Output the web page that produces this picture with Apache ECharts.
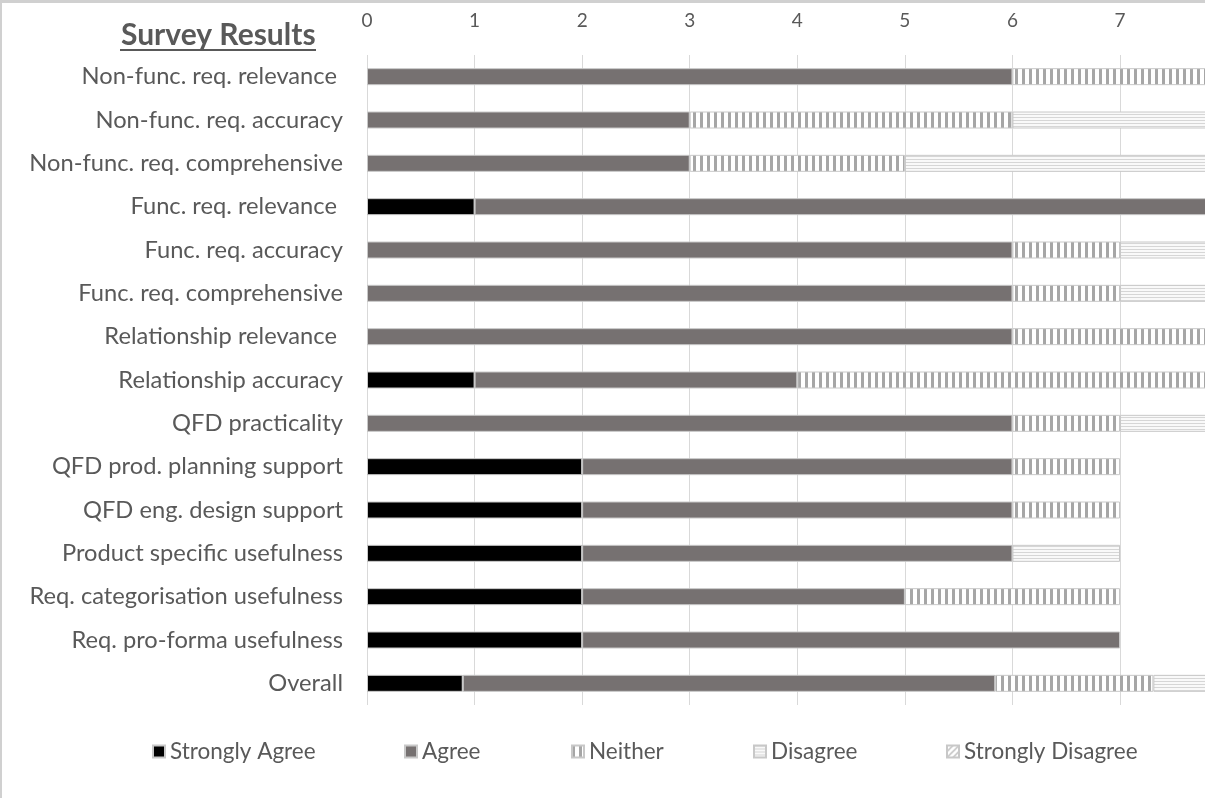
<!DOCTYPE html>
<html>
<head>
<meta charset="utf-8">
<script src="https://cdn.jsdelivr.net/npm/echarts@6/dist/echarts.min.js"></script>
<style>
  html, body { margin: 0; padding: 0; background: #ffffff; overflow: hidden; width: 1205px; height: 798px; }
  #chart { width: 1238px; height: 798px; }
</style>
</head>
<body>
<div id="chart"></div>
<script>
// ---- data ----
const categories = [
  'Non-func. req. relevance ',
  'Non-func. req. accuracy',
  'Non-func. req. comprehensive',
  'Func. req. relevance ',
  'Func. req. accuracy',
  'Func. req. comprehensive',
  'Relationship relevance ',
  'Relationship accuracy',
  'QFD practicality',
  'QFD prod. planning support',
  'QFD eng. design support',
  'Product specific usefulness',
  'Req. categorisation usefulness',
  'Req. pro-forma usefulness',
  'Overall'
];
const seriesNames = ['Strongly Agree', 'Agree', 'Neither', 'Disagree', 'Strongly Disagree'];
const stronglyAgree    = [0, 0, 0, 1, 0, 0, 0, 1, 0, 2, 2, 2, 2, 2, 0.89];
const agree            = [6, 3, 3, 7, 6, 6, 6, 3, 6, 4, 4, 4, 3, 5, 4.95];
const neither          = [2, 3, 2, 0, 1, 1, 2, 4, 1, 1, 1, 0, 2, 0, 1.47];
const disagree         = [0, 2, 3, 0, 1, 1, 0, 0, 1, 0, 0, 1, 0, 0, 0.69];
const stronglyDisagree = [0, 0, 0, 0, 0, 0, 0, 0, 0, 0, 0, 0, 0, 0, 0];
// value axis 0..8 (the reference picture is cropped just short of 8)
const xMin = 0, xMax = 8, xInterval = 1;

// ---- patterns ----
function makePattern(w, h, draw) {
  const c = document.createElement('canvas');
  c.width = w; c.height = h;
  const ctx = c.getContext('2d');
  draw(ctx, w, h);
  return { image: c, repeat: 'repeat' };
}
const neitherFill = makePattern(7, 10, (ctx, w, h) => {
  ctx.fillStyle = '#ffffff'; ctx.fillRect(0, 0, w, h);
  ctx.fillStyle = '#a6a6a6'; ctx.fillRect(0, 0, 3, h);
});
const disagreeFill = makePattern(4, 3, (ctx, w, h) => {
  ctx.fillStyle = '#f9f9f9'; ctx.fillRect(0, 0, w, h);
  ctx.fillStyle = '#d6d6d6'; ctx.fillRect(0, 0, w, 1);
});
const sDisagreeFill = makePattern(6, 6, (ctx, w, h) => {
  ctx.fillStyle = '#ffffff'; ctx.fillRect(0, 0, w, h);
  ctx.strokeStyle = '#bfbfbf'; ctx.lineWidth = 1.5;
  ctx.beginPath(); ctx.moveTo(0, h); ctx.lineTo(w, 0); ctx.stroke();
  ctx.beginPath(); ctx.moveTo(-1, 1); ctx.lineTo(1, -1); ctx.stroke();
  ctx.beginPath(); ctx.moveTo(w - 1, h + 1); ctx.lineTo(w + 1, h - 1); ctx.stroke();
});

const values = [stronglyAgree, agree, neither, disagree, stronglyDisagree];
const fills = ['#000000', '#767171', neitherFill, disagreeFill, sDisagreeFill];
const legendLeft = [147, 399, 566, 748, 941];

const FONT = 'Lato, "Open Sans", sans-serif';
const TXT = '#595959';

const el = document.getElementById('chart');
const chart = echarts.init(el, null, { renderer: 'canvas', width: 1238, height: 798 });
chart.setOption({
  animation: false,
  backgroundColor: '#ffffff',
  title: {
    text: 'Survey Results',
    left: 116, top: 15,
    textStyle: { fontFamily: FONT, fontSize: 30, fontWeight: 'bold', color: TXT }
  },
  graphic: [
    { type: 'line', shape: { x1: 120, y1: 50, x2: 316, y2: 50 }, style: { stroke: TXT, lineWidth: 2 } },
    { type: 'rect', shape: { x: 0.5, y: 1.5, width: 1300, height: 900 }, style: { fill: 'none', stroke: '#d0d0d0', lineWidth: 3 }, z: 100 }
  ],
  legend: seriesNames.map((n, i) => ({
    data: [n],
    left: legendLeft[i], top: 735,
    itemWidth: 12, itemHeight: 12, itemGap: 6,
    icon: 'rect',
    textStyle: { fontFamily: FONT, fontSize: 22.5, color: TXT }
  })),
  grid: { left: 367, width: 860.6, top: 55, bottom: 93, containLabel: false },
  xAxis: {
    type: 'value', position: 'top', min: xMin, max: xMax, interval: xInterval,
    axisLine: { show: false }, axisTick: { show: false },
    splitLine: { show: true, lineStyle: { color: '#d9d9d9', width: 1 } },
    axisLabel: { margin: 25, fontFamily: FONT, fontSize: 19, color: TXT }
  },
  yAxis: {
    type: 'category', data: categories, inverse: true,
    axisLine: { show: false }, axisTick: { show: false },
    axisLabel: { margin: 24, fontFamily: FONT, fontSize: 23.7, color: TXT }
  },
  series: seriesNames.map((n, i) => ({
    name: n, type: 'bar', stack: 'total', barWidth: 17,
    itemStyle: { color: fills[i], borderColor: '#c8c8c8', borderWidth: 1 },
    data: values[i].map(v => (v === 0 ? '-' : v))
  }))
});
</script>
</body>
</html>
